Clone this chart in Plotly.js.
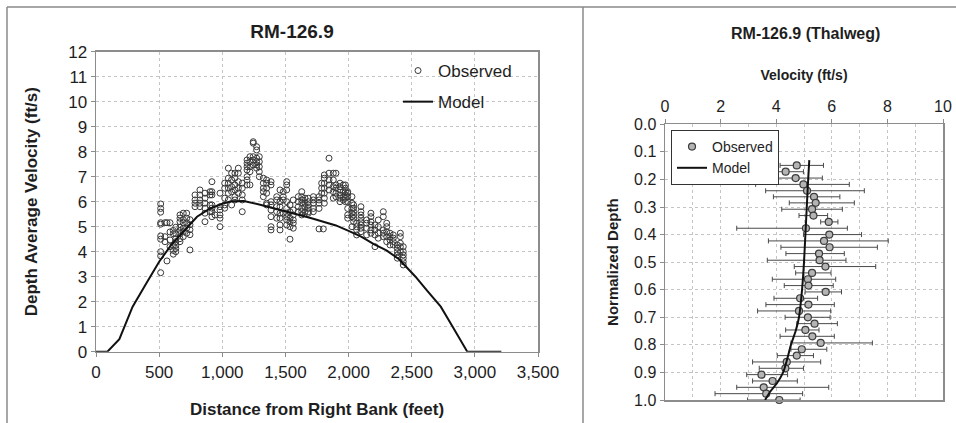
<!DOCTYPE html>
<html>
<head>
<meta charset="utf-8">
<script src="https://cdn.plot.ly/plotly-3.0.1.min.js"></script>
<style>
  html, body { margin: 0; padding: 0; background: #fff; }
  #chart { width: 956px; height: 423px; }
</style>
</head>
<body>
<div id="chart"></div>
<script>
// ---- Cross-section: observed depth-averaged velocity by survey vertical ----
const obsDist = [512, 546, 562, 586, 612, 632, 665, 691, 718, 744, 784, 823, 863, 903, 918, 942,
  982, 1019, 1048, 1074, 1100, 1127, 1158, 1196, 1219, 1245, 1272, 1293, 1325, 1351, 1386,
  1431, 1457, 1483, 1510, 1536, 1562, 1602, 1629, 1655, 1681, 1721, 1766, 1787, 1800, 1808,
  1845, 1879, 1900, 1932, 1958, 1975, 1993, 2027, 2040, 2064, 2098, 2143, 2177, 2209, 2235,
  2275, 2302, 2328, 2354, 2386, 2410, 2433];
const obsVel = [
  [5.91, 5.73, 5.58, 5.16, 5.10, 4.63, 4.50, 4.00, 3.83, 3.16],
  [5.16, 4.60, 4.40],
  [5.16, 3.63],
  [5.16, 4.79, 4.47, 4.20],
  [4.85, 4.72, 4.25, 4.05, 3.90],
  [4.98, 4.72, 4.52, 4.40, 4.26, 4.13, 4.00],
  [5.47, 5.34, 5.20, 4.98, 4.85, 4.72, 4.52, 4.40],
  [5.54, 5.28, 5.16, 4.94, 4.80, 4.60],
  [5.54, 5.34, 5.16, 4.94, 4.74],
  [5.28, 5.08, 4.88, 4.68, 4.07],
  [6.27, 6.07, 5.94, 5.80],
  [6.47, 6.27, 6.07, 5.94, 5.80],
  [6.34, 6.14, 5.94, 5.74, 5.54, 5.20],
  [6.40, 6.27, 5.87, 5.60],
  [6.80, 6.40, 6.27, 5.87, 5.74, 5.60, 5.40],
  [5.47],
  [6.34, 5.80, 5.67, 5.47, 5.34, 5.00],
  [6.74, 6.54, 6.14, 5.87, 5.74],
  [7.34, 6.94, 6.74, 6.54, 6.34, 6.07],
  [7.14, 6.87, 6.60, 6.40, 5.87],
  [7.14, 6.94, 6.67, 6.47, 6.20, 6.07],
  [7.34, 7.14, 6.80, 6.54, 6.34],
  [6.74, 6.54, 6.27, 6.07, 5.60],
  [7.67, 7.54, 7.40, 7.27, 7.00, 6.87, 6.67],
  [7.80, 7.60, 7.40, 7.20, 6.67],
  [8.40, 8.34, 7.80, 7.67, 7.47],
  [8.20, 8.07, 7.74, 7.60, 7.47, 7.34],
  [7.80, 7.60, 7.40, 7.20, 7.00],
  [6.94, 6.74, 6.54, 6.40, 6.20],
  [6.87, 6.74, 6.54, 6.34, 5.94, 5.87],
  [6.80, 6.67, 6.00, 5.87, 5.67, 5.40, 5.00, 4.87],
  [6.20, 6.07, 5.80, 5.60, 5.34],
  [6.47, 6.00, 5.80, 5.54, 5.34, 5.07, 4.87],
  [6.40, 6.20, 6.07, 5.54],
  [6.80, 6.67, 6.47, 6.00, 5.73, 5.54, 5.40, 5.27, 5.07],
  [5.87, 5.60, 5.34, 5.20, 5.00, 4.50],
  [6.07, 5.67, 5.47, 5.27, 5.14, 4.94],
  [6.20, 6.00, 5.80, 5.60],
  [6.40, 6.20, 6.07, 5.94, 5.73, 5.60, 5.47],
  [6.14, 5.94, 5.80, 5.60],
  [6.14, 6.00, 5.87, 5.73, 5.60, 5.54],
  [6.20, 6.07, 5.94, 5.73, 5.60],
  [6.20, 6.07, 5.94, 5.73, 4.91],
  [6.74, 6.54, 6.34],
  [4.91],
  [7.07, 6.94, 6.74, 6.54, 6.34, 6.14, 5.94],
  [7.74, 7.14, 6.87, 6.67, 6.47],
  [7.14, 6.87, 6.60, 6.40, 6.14],
  [7.14, 6.67, 6.54, 6.34, 6.20],
  [6.74, 6.60, 6.47, 6.27, 6.14, 6.00],
  [6.67, 6.40, 6.20, 6.07],
  [6.67, 6.54, 6.40, 6.27, 6.14, 6.00],
  [6.40, 6.34, 6.20, 6.00, 5.73, 5.47, 5.34],
  [6.20, 5.94, 5.73, 5.54, 5.40, 5.00],
  [5.87, 5.74, 5.60, 5.47, 5.34, 5.20],
  [5.14, 5.00, 4.87, 4.67],
  [5.80, 5.60, 5.47, 5.34, 5.20, 5.07, 4.94, 4.80],
  [5.27, 5.14, 4.94, 4.67],
  [5.54, 5.40, 5.20, 5.07, 4.87, 4.74],
  [5.07, 4.87, 4.67, 4.20],
  [5.27, 5.00, 4.74, 4.54],
  [5.60, 5.40, 4.87, 4.74, 4.60],
  [5.14, 5.00, 4.80, 4.60, 4.40],
  [4.74, 4.60, 4.47, 4.27],
  [4.67, 4.54, 4.40, 4.27],
  [4.27, 4.14, 4.00, 3.87, 3.74],
  [4.74, 4.60, 4.34, 4.20, 4.00],
  [4.20, 4.00, 3.87, 3.74, 3.60, 3.47]
];

// ---- Cross-section: modelled depth-averaged velocity ----
const modelDist = [0, 90, 185, 290, 400, 500, 600, 700, 800, 900, 1000, 1070, 1170, 1300, 1400,
  1500, 1600, 1700, 1800, 1900, 2000, 2100, 2200, 2300, 2400, 2486, 2530, 2620, 2730, 2830, 2940, 3210];
const modelVel = [0, 0, 0.5, 1.8, 2.75, 3.6, 4.3, 4.85, 5.4, 5.72, 5.92, 6.02, 6.03, 5.88, 5.75,
  5.62, 5.5, 5.35, 5.2, 5.05, 4.83, 4.6, 4.3, 4.05, 3.7, 3.25, 3.0, 2.45, 1.8, 0.95, 0, 0];

// ---- Thalweg profile: observed mean velocity with min/max range ----
const profDepth = [0.149, 0.172, 0.195, 0.218, 0.241, 0.263, 0.285, 0.308, 0.331, 0.354, 0.377,
  0.400, 0.423, 0.446, 0.469, 0.493, 0.516, 0.539, 0.562, 0.585, 0.608, 0.631, 0.654, 0.677,
  0.700, 0.723, 0.746, 0.769, 0.793, 0.816, 0.839, 0.862, 0.885, 0.908, 0.931, 0.954, 0.977, 1.000];
const profVel = [4.74, 4.34, 4.70, 4.98, 5.11, 5.36, 5.42, 5.29, 5.34, 5.89, 5.07, 5.91, 5.72,
  5.92, 5.54, 5.56, 5.77, 5.29, 5.14, 5.16, 5.78, 4.86, 5.16, 4.82, 5.14, 5.38, 5.05, 5.30,
  5.60, 4.92, 4.74, 4.38, 4.33, 3.47, 3.87, 3.55, 3.64, 4.11];
const profMin = [4.14, 3.93, 3.78, 3.26, 3.62, 3.90, 4.47, 4.20, 4.82, 5.60, 2.58, 4.98, 3.72,
  4.17, 4.35, 3.68, 4.65, 4.70, 3.86, 4.29, 5.04, 3.92, 3.63, 3.33, 4.32, 4.74, 4.34, 4.14,
  4.53, 4.53, 4.04, 3.15, 3.39, 2.94, 3.15, 2.58, 1.80, 2.97];
const profMax = [5.70, 4.98, 5.66, 6.63, 7.17, 6.29, 6.81, 6.38, 5.85, 6.22, 6.56, 7.07, 8.03,
  7.64, 6.45, 6.51, 7.58, 5.97, 6.14, 6.05, 6.35, 5.49, 6.09, 5.96, 5.94, 6.20, 5.54, 6.09,
  7.46, 5.82, 5.34, 5.60, 4.98, 4.41, 4.76, 5.89, 4.95, 4.86];

// ---- Thalweg profile: modelled velocity ----
const profModelDepth = [0.13, 0.2, 0.3, 0.4, 0.5, 0.6, 0.7, 0.75, 0.8, 0.85, 0.9, 0.94, 0.97, 1.0];
const profModelVel = [5.19, 5.15, 5.10, 5.05, 5.00, 4.93, 4.82, 4.70, 4.53, 4.40, 4.25, 4.02, 3.78, 3.60];

// flatten the per-vertical observations into x/y pairs
const scatterX = [], scatterY = [];
obsDist.forEach((d, i) => obsVel[i].forEach(v => { scatterX.push(d); scatterY.push(v); }));

const W = 956, H = 423;
const px = x => x / W;
const py = y => 1 - y / H;

const FONT = 'Liberation Sans, Arial, sans-serif';
const GRID = '#c4c4c4';
const AXIS = '#8c8c8c';
const INK = '#1e1e1e';

const traces = [
  {
    type: 'scatter', mode: 'markers', name: 'Observed',
    x: scatterX, y: scatterY, xaxis: 'x', yaxis: 'y', legend: 'legend2', legendgroup: 'o1',
    marker: { symbol: 'circle-open', size: 6, color: '#3a3a3a', line: { width: 1, color: '#3a3a3a' } }
  },
  {
    type: 'scatter', mode: 'lines', name: 'Model',
    x: modelDist, y: modelVel, xaxis: 'x', yaxis: 'y', legend: 'legend2', legendgroup: 'm1',
    line: { color: '#111', width: 2 }
  },
  {
    type: 'scatter', mode: 'markers', name: 'Observed',
    x: profVel, y: profDepth, xaxis: 'x2', yaxis: 'y2', legend: 'legend', cliponaxis: false,
    marker: { symbol: 'circle', size: 7, color: '#b4b4b4', line: { width: 1.2, color: '#3c3c3c' } },
    error_x: {
      type: 'data', symmetric: false,
      array: profMax.map((m, i) => +(m - profVel[i]).toFixed(2)),
      arrayminus: profMin.map((m, i) => +(profVel[i] - m).toFixed(2)),
      color: '#4a4a4a', thickness: 1, width: 2.5
    }
  },
  {
    type: 'scatter', mode: 'lines', name: 'Model',
    x: profModelVel, y: profModelDepth, xaxis: 'x2', yaxis: 'y2', legend: 'legend',
    line: { color: '#111', width: 2, shape: 'spline', smoothing: 0.6 }
  }
];

const axisCommon = {
  showgrid: true, gridcolor: GRID, griddash: 'dot', gridwidth: 1,
  showline: true, linecolor: AXIS, linewidth: 1.5, mirror: true,
  ticks: 'outside', ticklen: 4, tickcolor: AXIS,
  zeroline: false, fixedrange: true,
  tickfont: { family: FONT, size: 17, color: INK }
};

const layout = {
  width: W, height: H,
  margin: { l: 0, r: 0, t: 0, b: 0 },
  paper_bgcolor: '#fff', plot_bgcolor: '#fff',
  font: { family: FONT, color: INK },
  showlegend: true,
  title: {
    text: 'RM-126.9', x: px(292), y: py(31), xref: 'paper', yref: 'paper',
    xanchor: 'center', yanchor: 'middle',
    font: { family: FONT, size: 19, weight: 'bold', color: INK }
  },
  xaxis: Object.assign({}, axisCommon, {
    domain: [px(96), px(538)], anchor: 'y',
    range: [0, 3500], dtick: 500, tick0: 0, tickformat: ',',
    title: { text: 'Distance from Right Bank (feet)', standoff: 22,
      font: { family: FONT, size: 17, weight: 'bold', color: INK } }
  }),
  yaxis: Object.assign({}, axisCommon, {
    domain: [py(351.7), py(51.7)], anchor: 'x',
    range: [0, 12], dtick: 1, tick0: 0,
    title: { text: 'Depth Average Velocity (ft/s)', standoff: 26,
      font: { family: FONT, size: 17, weight: 'bold', color: INK } }
  }),
  xaxis2: Object.assign({}, axisCommon, {
    domain: [px(665), px(943)], anchor: 'y2', side: 'top',
    range: [0, 10], dtick: 2, tick0: 0,
    minor: { dtick: 1, showgrid: true, gridcolor: GRID, griddash: 'dot', ticks: '' },
    tickfont: { family: FONT, size: 16, color: INK },
    title: { text: 'Velocity (ft/s)', standoff: 14,
      font: { family: FONT, size: 14, weight: 'bold', color: INK } }
  }),
  yaxis2: Object.assign({}, axisCommon, {
    domain: [py(400), py(124.3)], anchor: 'x2',
    range: [1, 0], dtick: 0.1, tick0: 0, tickformat: '.1f',
    tickfont: { family: FONT, size: 16, color: INK },
    title: { text: 'Normalized Depth', standoff: 12,
      font: { family: FONT, size: 15, weight: 'bold', color: INK } }
  }),
  legend: {
    x: px(671), y: py(130), xanchor: 'left', yanchor: 'top',
    bgcolor: '#fff', bordercolor: '#333', borderwidth: 1,
    font: { family: FONT, size: 14, color: INK },
    itemwidth: 30, tracegroupgap: 0
  },
  legend2: {
    x: px(398), y: py(53), xanchor: 'left', yanchor: 'top',
    bgcolor: 'rgba(255,255,255,0)', borderwidth: 0,
    font: { family: FONT, size: 17, color: INK },
    itemwidth: 30, tracegroupgap: 6
  },
  annotations: [{
    text: 'RM-126.9 (Thalweg)', xref: 'paper', yref: 'paper',
    x: px(805), y: py(33), xanchor: 'center', yanchor: 'middle', showarrow: false,
    font: { family: FONT, size: 16, weight: 'bold', color: INK }
  }],
  shapes: [
    { type: 'line', xref: 'paper', yref: 'paper', x0: px(7), x1: px(7), y0: py(7), y1: 0,
      line: { color: '#8a8a8a', width: 1.5 } },
    { type: 'line', xref: 'paper', yref: 'paper', x0: px(7), x1: 1, y0: py(7), y1: py(7),
      line: { color: '#8a8a8a', width: 1.5 } },
    { type: 'line', xref: 'paper', yref: 'paper', x0: px(583), x1: px(583), y0: py(7), y1: 0,
      line: { color: '#8a8a8a', width: 1.5 } }
  ]
};

Plotly.newPlot('chart', traces, layout, { staticPlot: true, displayModeBar: false });
</script>
</body>
</html>
